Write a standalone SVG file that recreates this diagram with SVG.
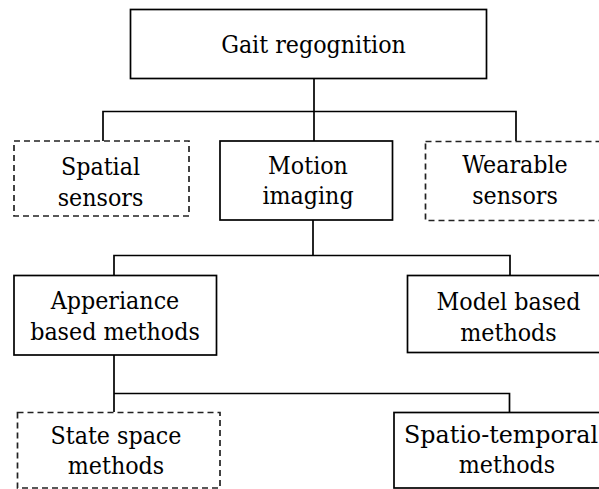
<svg xmlns="http://www.w3.org/2000/svg" width="599" height="489" viewBox="0 0 599 489">
<style>
.box{fill:#fff;stroke:#000;stroke-width:1.7}
.dash{fill:#fff;stroke:#222;stroke-width:1.7;stroke-dasharray:6 4}
.lbl{font-family:"DejaVu Serif Condensed","DejaVu Serif",serif;font-size:24.7px;fill:#000;text-anchor:middle}
.conn{fill:none;stroke:#000;stroke-width:1.7}
</style>
<rect width="599" height="489" fill="#fff"/>
<g id="connectors">
<path class="conn" d="M314 78.5V111.5M103 141V111.5H516V141M314 111.5V141"/>
<path class="conn" d="M313 220V255.5M114 275V255.5H510V275.5"/>
<path class="conn" d="M114 355V393.5M114 412V393.5H509.5V412"/>
</g>
<g id="gait">
<rect class="box" x="130.5" y="9.5" width="356" height="69"/>
<text class="lbl" x="313.5" y="53">Gait regognition</text>
</g>
<g id="spatial">
<rect class="dash" x="14" y="141" width="175" height="75"/>
<text class="lbl" x="100.5" y="175">Spatial</text>
<text class="lbl" x="100.5" y="206">sensors</text>
</g>
<g id="motion">
<rect class="box" x="220" y="141" width="172.5" height="79"/>
<text class="lbl" x="308" y="174">Motion</text>
<text class="lbl" x="308" y="204">imaging</text>
</g>
<g id="wearable">
<rect class="dash" x="425.5" y="141.5" width="180" height="79"/>
<text class="lbl" x="515" y="172.5">Wearable</text>
<text class="lbl" x="515" y="203.5">sensors</text>
</g>
<g id="appearance">
<rect class="box" x="14" y="275.5" width="202.5" height="79.5"/>
<text class="lbl" x="115" y="309">Apperiance</text>
<text class="lbl" x="115" y="340">based methods</text>
</g>
<g id="model">
<rect class="box" x="407.5" y="275.5" width="202" height="77"/>
<text class="lbl" x="508.5" y="310">Model based</text>
<text class="lbl" x="508.5" y="341">methods</text>
</g>
<g id="statespace">
<rect class="dash" x="17.5" y="412.5" width="202.5" height="75.5"/>
<text class="lbl" x="116" y="444">State space</text>
<text class="lbl" x="116" y="474">methods</text>
</g>
<g id="spatiotemporal">
<rect class="box" x="394" y="412.5" width="226" height="75.5"/>
<text class="lbl" x="501" y="443" textLength="194" lengthAdjust="spacingAndGlyphs">Spatio-temporal</text>
<text class="lbl" x="507" y="473">methods</text>
</g>
</svg>
